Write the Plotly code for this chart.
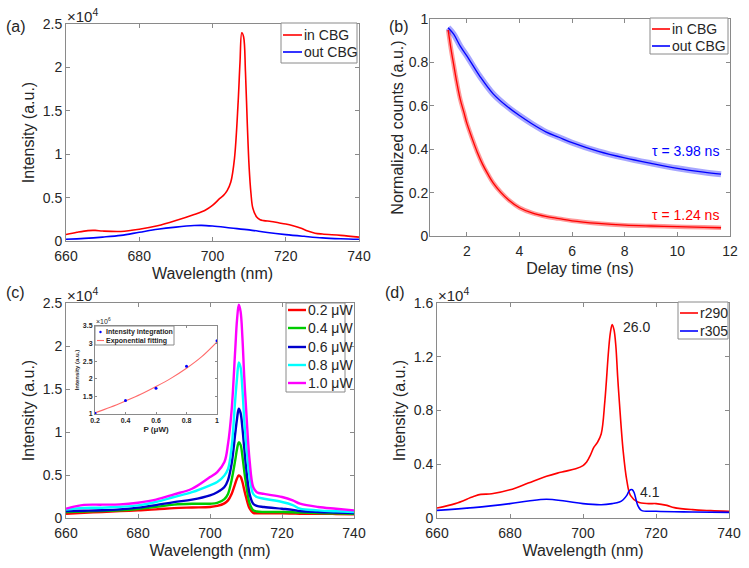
import plotly.graph_objects as go

# ---------------- data ----------------
# (a) spectra, intensity in units of 1e4
wl_a_in = [660, 663, 666, 668, 670, 675, 680, 685, 690, 695, 698, 700, 702, 703, 704, 705, 706, 707, 707.5, 708,
           708.5, 709, 709.5, 710, 710.5, 711, 712, 713, 714, 716, 718, 720, 722, 724, 726, 728, 730, 735, 740]
int_a_in = [0.074, 0.10, 0.12, 0.122, 0.115, 0.11, 0.135, 0.175, 0.235, 0.305, 0.355, 0.41, 0.49, 0.525, 0.58, 0.68,
            0.95, 1.6, 2.05, 2.40, 2.35, 1.95, 1.35, 0.85, 0.55, 0.38, 0.28, 0.245, 0.235, 0.225, 0.21, 0.195, 0.175,
            0.15, 0.115, 0.09, 0.08, 0.065, 0.045]
wl_a_out = [660, 665, 670, 675, 680, 685, 690, 695, 697, 700, 705, 710, 715, 720, 725, 730, 735, 740]
int_a_out = [0.02, 0.03, 0.045, 0.065, 0.10, 0.135, 0.16, 0.178, 0.18, 0.172, 0.15, 0.128, 0.098, 0.074, 0.054,
             0.036, 0.026, 0.02]

# (b) decay curves
t_in = [1.29, 1.4, 1.5, 1.6, 1.75, 1.9, 2.0, 2.2, 2.4, 2.6, 2.8, 3.0, 3.3, 3.6, 4.0, 4.5, 5.0, 5.5, 6.0, 7.0, 8.0,
        9.0, 10.0, 11.0, 11.66]
cnt_in = [0.95, 0.86, 0.79, 0.72, 0.63, 0.565, 0.52, 0.45, 0.385, 0.33, 0.285, 0.245, 0.20, 0.165, 0.13, 0.105, 0.09,
          0.08, 0.07, 0.058, 0.05, 0.046, 0.043, 0.04, 0.038]
t_out = [1.29, 1.5, 1.75, 2.0, 2.5, 3.0, 3.5, 4.0, 4.5, 5.0, 5.5, 6.0, 7.0, 8.0, 9.0, 10.0, 11.0, 11.66]
cnt_out = [0.96, 0.93, 0.875, 0.83, 0.735, 0.655, 0.60, 0.555, 0.515, 0.48, 0.455, 0.43, 0.39, 0.36, 0.335, 0.312,
           0.294, 0.285]

# (c) power-dependent spectra (1e4)
wl_c = [660, 665, 670, 675, 680, 685, 690, 695, 700, 702, 704, 705, 706, 707, 707.5, 708, 708.5, 709, 709.5, 710, 711,
        712, 713, 715, 720, 723, 725, 730, 735, 740]
p02 = [0.05, 0.06, 0.07, 0.08, 0.09, 0.10, 0.115, 0.122, 0.128, 0.14, 0.17, 0.205, 0.28, 0.40, 0.46, 0.495, 0.48,
       0.42, 0.33, 0.245, 0.11, 0.06, 0.055, 0.055, 0.055, 0.052, 0.05, 0.05, 0.047, 0.043]
p04 = [0.07, 0.075, 0.082, 0.09, 0.105, 0.13, 0.155, 0.165, 0.166, 0.175, 0.22, 0.28, 0.44, 0.67, 0.80, 0.88, 0.85,
       0.72, 0.55, 0.40, 0.17, 0.09, 0.075, 0.07, 0.07, 0.066, 0.063, 0.058, 0.054, 0.05]
p06 = [0.081, 0.085, 0.09, 0.10, 0.12, 0.15, 0.185, 0.213, 0.263, 0.30, 0.36, 0.44, 0.63, 0.98, 1.15, 1.27, 1.22, 1.05,
       0.82, 0.60, 0.28, 0.166, 0.14, 0.128, 0.108, 0.095, 0.081, 0.07, 0.064, 0.058]
p08 = [0.097, 0.118, 0.12, 0.13, 0.147, 0.186, 0.244, 0.30, 0.38, 0.418, 0.495, 0.57, 0.82, 1.37, 1.62, 1.81, 1.75,
       1.50, 1.15, 0.88, 0.476, 0.28, 0.244, 0.224, 0.186, 0.15, 0.108, 0.089, 0.078, 0.07]
p10 = [0.108, 0.152, 0.155, 0.158, 0.178, 0.213, 0.275, 0.34, 0.476, 0.534, 0.65, 0.86, 1.25, 1.95, 2.30, 2.48, 2.40,
       2.10, 1.65, 1.29, 0.67, 0.36, 0.30, 0.28, 0.244, 0.205, 0.166, 0.128, 0.108, 0.089]
power_labels = ["0.2 μW", "0.4 μW", "0.6 μW", "0.8 μW", "1.0 μW"]

# (c) inset: integrated intensity (1e6)
p_pts = [0.2, 0.4, 0.6, 0.8, 1.0]
integ_pts = [1.02, 1.38, 1.73, 2.36, 3.08]
p_fit = [0.2, 0.3, 0.4, 0.5, 0.6, 0.7, 0.8, 0.9, 1.0]
integ_fit = [1.03, 1.19, 1.37, 1.56, 1.78, 2.02, 2.30, 2.63, 3.05]

# (d) spectra (1e4)
wl_d_red = [660, 665, 670, 672, 675, 680, 685, 690, 693, 695, 698, 700, 701, 702, 703, 704, 705, 706, 707, 707.5, 708,
            708.5, 709, 709.5, 710, 711, 712, 713, 715, 718, 720, 723, 725, 730, 735, 740]
int_d_red = [0.074, 0.107, 0.16, 0.176, 0.18, 0.21, 0.26, 0.31, 0.334, 0.347, 0.367, 0.39, 0.416, 0.466, 0.527, 0.565,
             0.627, 0.874, 1.245, 1.38, 1.44, 1.40, 1.28, 1.05, 0.85, 0.50, 0.28, 0.168, 0.119, 0.107, 0.107, 0.094,
             0.077, 0.062, 0.055, 0.05]
wl_d_blue = [660, 670, 680, 685, 690, 695, 700, 705, 708, 710, 711, 712, 712.5, 713, 713.5, 714, 714.5, 715, 716, 720,
             730, 740]
int_d_blue = [0.057, 0.077, 0.107, 0.126, 0.139, 0.126, 0.107, 0.099, 0.107, 0.119, 0.136, 0.168, 0.195, 0.21, 0.21,
              0.19, 0.14, 0.094, 0.057, 0.05, 0.045, 0.042]

wl_ticks = [660, 680, 700, 720, 740]

# ---------------- figure ----------------
W, H = 749, 568
FONT = "Liberation Sans, Arial, sans-serif"
TXT = "#262626"
AX = "#8a8a8a"
RED, BLUE = "#ff0000", "#0000ff"


def px(x):
    return x / W


def py(y):
    return 1 - y / H


fig = go.Figure()

# (a)
fig.add_trace(go.Scatter(x=wl_a_in, y=int_a_in, mode="lines", line=dict(color=RED, width=1.6, shape="spline"),
                         name="in CBG", xaxis="x", yaxis="y"))
fig.add_trace(go.Scatter(x=wl_a_out, y=int_a_out, mode="lines", line=dict(color=BLUE, width=1.6, shape="spline"),
                         name="out CBG", xaxis="x", yaxis="y"))

# (b) measured band + fit
fig.add_trace(go.Scatter(x=t_in, y=cnt_in, mode="lines", line=dict(color="rgba(255,0,0,0.4)", width=4.5, shape="spline"),
                         name="in CBG data", xaxis="x2", yaxis="y2"))
fig.add_trace(go.Scatter(x=t_out, y=cnt_out, mode="lines", line=dict(color="rgba(0,0,255,0.35)", width=6, shape="spline"),
                         name="out CBG data", xaxis="x2", yaxis="y2"))
fig.add_trace(go.Scatter(x=t_in, y=cnt_in, mode="lines", line=dict(color=RED, width=1.3, shape="spline"),
                         name="in CBG", xaxis="x2", yaxis="y2"))
fig.add_trace(go.Scatter(x=t_out, y=cnt_out, mode="lines", line=dict(color=BLUE, width=1.3, shape="spline"),
                         name="out CBG", xaxis="x2", yaxis="y2"))

# (c)
c_colors = ["#ff0000", "#00cc00", "#0000cc", "#00ffff", "#ff00ff"]
for lab, vals, col in zip(power_labels, [p02, p04, p06, p08, p10], c_colors):
    fig.add_trace(go.Scatter(x=wl_c, y=vals, mode="lines", line=dict(color=col, width=2.4, shape="spline"),
                             name=lab, xaxis="x3", yaxis="y3"))

# inset
fig.add_trace(go.Scatter(x=p_fit, y=integ_fit, mode="lines", line=dict(color="#ff6a6a", width=1.1, shape="spline"),
                         name="Exponential fitting", xaxis="x5", yaxis="y5"))
fig.add_trace(go.Scatter(x=p_pts, y=integ_pts, mode="markers", marker=dict(color=BLUE, size=3),
                         name="Intensity integration", xaxis="x5", yaxis="y5"))

# (d)
fig.add_trace(go.Scatter(x=wl_d_red, y=int_d_red, mode="lines", line=dict(color=RED, width=1.6, shape="spline"),
                         name="r290", xaxis="x4", yaxis="y4"))
fig.add_trace(go.Scatter(x=wl_d_blue, y=int_d_blue, mode="lines", line=dict(color=BLUE, width=1.6, shape="spline"),
                         name="r305", xaxis="x4", yaxis="y4"))


def axis(domain, rng, tickvals, title=None, anchor=None, size=14, tsize=16, ticklen=4, standoff=4, bold=False,
         lab_off=0):
    fmt = "<b>%g</b>" if bold else "%g"
    d = dict(domain=domain, range=rng, tickvals=tickvals, ticktext=[fmt % v for v in tickvals],
             showline=True, linecolor=AX, linewidth=1, mirror="ticks", ticks="inside", ticklen=ticklen,
             tickcolor=AX, showgrid=False, zeroline=False, automargin=False, ticklabelstandoff=lab_off,
             tickfont=dict(size=size, color=TXT, family=FONT), anchor=anchor, fixedrange=True)
    if title:
        d["title"] = dict(text=title, font=dict(size=tsize, color=TXT, family=FONT), standoff=standoff)
    return d


dom_a_x = [px(66), px(359)]; dom_a_y = [py(241), py(24)]
dom_b_x = [px(430), px(730)]; dom_b_y = [py(236), py(19)]
dom_c_x = [px(66), px(354)]; dom_c_y = [py(518), py(303)]
dom_d_x = [px(437), px(729)]; dom_d_y = [py(518), py(303)]
dom_i_x = [px(95), px(217)]; dom_i_y = [py(414), py(326)]

XO = dict(standoff=5, lab_off=2)

fig.update_layout(
    width=W, height=H, margin=dict(l=0, r=0, t=0, b=0, autoexpand=False),
    paper_bgcolor="white", plot_bgcolor="white", showlegend=False,
    font=dict(family=FONT, color=TXT),
    xaxis=axis(dom_a_x, [660, 740], wl_ticks, "Wavelength (nm)", "y", **XO),
    yaxis=axis(dom_a_y, [0, 2.5], [0, 0.5, 1, 1.5, 2, 2.5], "Intensity (a.u.)", "x"),
    xaxis2=axis(dom_b_x, [0.6, 12], [2, 4, 6, 8, 10, 12], "Delay time (ns)", "y2", **XO),
    yaxis2=axis(dom_b_y, [0, 1], [0, 0.2, 0.4, 0.6, 0.8, 1], "Normalized counts (a.u.)", "x2", standoff=1,
                lab_off=-2),
    xaxis3=axis(dom_c_x, [660, 740], wl_ticks, "Wavelength (nm)", "y3", **XO),
    yaxis3=axis(dom_c_y, [0, 2.5], [0, 0.5, 1, 1.5, 2, 2.5], "Intensity (a.u.)", "x3"),
    xaxis4=axis(dom_d_x, [660, 740], wl_ticks, "Wavelength (nm)", "y4", **XO),
    yaxis4=axis(dom_d_y, [0, 1.6], [0, 0.4, 0.8, 1.2, 1.6], "Intensity (a.u.)", "x4"),
    xaxis5=axis(dom_i_x, [0.2, 1], [0.2, 0.4, 0.6, 0.8, 1], "<b>P (μW)</b>", "y5", size=7, tsize=8,
                ticklen=2, standoff=2, bold=True),
    yaxis5=axis(dom_i_y, [1, 3.5], [1, 1.5, 2, 2.5, 3, 3.5], "<b>Intensity (a.u.)</b>", "x5", size=7, tsize=6,
                ticklen=2, standoff=2, bold=True),
)

ann = []
shapes = []


def text(x, y, s, size=15, color=TXT, xanchor="left"):
    ann.append(dict(x=px(x), y=py(y), xref="paper", yref="paper", text=s, showarrow=False,
                    font=dict(size=size, color=color, family=FONT), xanchor=xanchor, yanchor="middle",
                    borderpad=0))


def legend_box(x0, y0, x1, y1, items, key_len=18, size=14, bold=False):
    """Framed legend: items = list of (label, color, width, kind, y_center)."""
    shapes.append(dict(type="rect", xref="paper", yref="paper", x0=px(x0), x1=px(x1), y0=py(y1), y1=py(y0),
                       line=dict(color=AX, width=1), fillcolor="white", layer="above"))
    for lab, col, wid, kind, yc in items:
        if kind == "line":
            shapes.append(dict(type="line", xref="paper", yref="paper", x0=px(x0 + 2), x1=px(x0 + 2 + key_len),
                               y0=py(yc), y1=py(yc), line=dict(color=col, width=wid), layer="above"))
        else:
            r = wid
            cx = x0 + 2 + key_len / 2
            shapes.append(dict(type="circle", xref="paper", yref="paper", x0=px(cx - r), x1=px(cx + r),
                               y0=py(yc + r), y1=py(yc - r), line=dict(color=col, width=0), fillcolor=col,
                               layer="above"))
        t = "<b>%s</b>" % lab if bold else lab
        text(x0 + 3 + key_len, yc, t, size)


# legends
legend_box(281, 23, 357, 63, [("in CBG", RED, 1.6, "line", 35), ("out CBG", BLUE, 1.6, "line", 52)], key_len=19)
legend_box(650, 18, 728, 54, [("in CBG", RED, 1.6, "line", 29), ("out CBG", BLUE, 1.6, "line", 46)], key_len=18)
legend_box(286, 303, 345, 392, [(lab, col, 2.4, "line", yc) for lab, col, yc in
                                zip(power_labels, c_colors, [310, 328, 347, 365, 383])], key_len=18, size=14)
legend_box(678, 302, 728, 339, [("r290", RED, 1.6, "line", 313), ("r305", BLUE, 1.6, "line", 331)], key_len=18)
legend_box(95, 326, 174, 345, [("Intensity integration", BLUE, 1.2, "dot", 332),
                               ("Exponential fitting", "#ff6a6a", 1.1, "line", 340.5)], key_len=7, size=7, bold=True)

text(5, 27, "(a)", 16)
text(388, 27, "(b)", 16)
text(5, 292, "(c)", 16)
text(384, 292, "(d)", 16)
text(66, 16, "×10<sup>4</sup>", 15)
text(66, 294, "×10<sup>4</sup>", 15)
text(437, 294, "×10<sup>4</sup>", 15)
text(95, 321, "×10<sup>6</sup>", 7)
text(651, 151, "τ = 3.98 ns", 14, BLUE)
text(651, 215, "τ = 1.24 ns", 14, RED)

fig.update_layout(annotations=ann, shapes=shapes)

# data-anchored labels in (d)
fig.add_annotation(x=710.4, y=1.42, xref="x4", yref="y4", text="26.0", showarrow=False, xanchor="left",
                   font=dict(size=14, color=TXT, family=FONT))
fig.add_annotation(x=715.0, y=0.19, xref="x4", yref="y4", text="4.1", showarrow=False, xanchor="left",
                   font=dict(size=14, color=TXT, family=FONT))

fig.write_html("out.html", config={"displayModeBar": False},
               post_script="document.body.style.margin='0';document.body.style.overflow='hidden';")
